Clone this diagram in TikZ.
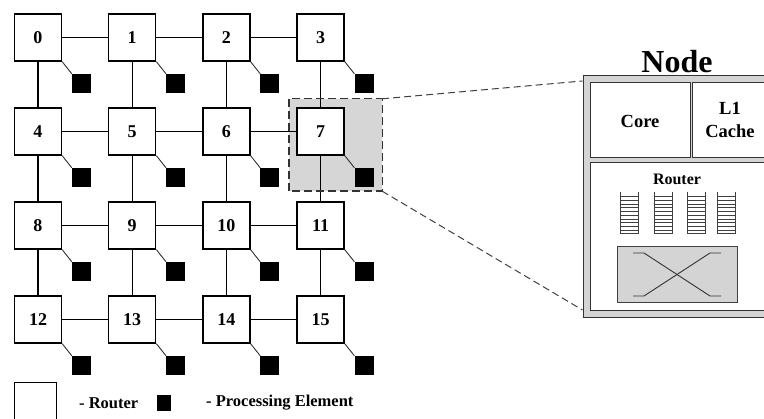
\documentclass[tikz,border=0pt]{standalone}
\usepackage{fontspec}
\setmainfont{Liberation Serif}
\begin{document}
\begin{tikzpicture}[x=1pt,y=-1pt,
  router/.style={draw,line width=1.4pt,fill=white,minimum width=47pt,minimum height=47pt,inner sep=0pt,font=\fontsize{18}{18}\selectfont\bfseries},
  pe/.style={fill=black,minimum size=19pt,inner sep=0pt},
  link/.style={line width=1.3pt},
  pelink/.style={line width=0.9pt,black!80},
  zoomreg/.style={fill=black!16,minimum width=93pt,minimum height=92pt,inner sep=0pt},
  zoomedge/.style={draw=black!80,line width=1.4pt,dash pattern=on 8pt off 4pt},
  dashline/.style={draw=black!75,line width=1pt,dash pattern=on 7pt off 4pt},
  outerbox/.style={draw=black!80,line width=1pt,fill=black!17,anchor=north west,inner sep=0pt},
  inbox/.style={draw=black!80,line width=1pt,fill=white,anchor=north west,inner sep=0pt},
  lbl/.style={inner sep=0pt,font=\fontsize{18.5}{23}\selectfont\bfseries,align=center},
  small/.style={inner sep=0pt,font=\fontsize{16}{16}\selectfont\bfseries},
  buf/.style={draw=black!75,line width=0.8pt},
  xbar/.style={draw=black!75,line width=0.9pt,fill=black!17,inner sep=0pt},
  xline/.style={draw=black!80,line width=0.9pt}]
\useasboundingbox (0,0) rectangle (764,419);
\clip (0,0) rectangle (764,419);

% highlighted region behind node 7
\node[zoomreg] (zoom) at (335.5,145) {};

% routers and processing elements
\foreach \i in {0,...,15}{
  \pgfmathtruncatemacro\c{mod(\i,4)}
  \pgfmathtruncatemacro\r{div(\i,4)}
  \node[router] (r\i) at ({38+94.2*\c},{37.5+94*\r}) {\i};
  \node[pe] (p\i) at ({38+94.2*\c+43.5},{37.5+94*\r+46}) {};
  \draw[pelink] (r\i.south east) -- (p\i.north west);
}
% mesh links
\foreach \r in {0,...,3}{
  \foreach \c in {0,1,2}{
    \pgfmathtruncatemacro\a{4*\r+\c}
    \pgfmathtruncatemacro\b{4*\r+\c+1}
    \draw[link] (r\a) -- (r\b);
  }
}
\foreach \r in {0,1,2}{
  \foreach \c in {0,...,3}{
    \pgfmathtruncatemacro\a{4*\r+\c}
    \pgfmathtruncatemacro\b{4*\r+\c+4}
    \draw[link] (r\a) -- (r\b);
  }
}
\draw[zoomedge] (zoom.north west) rectangle (zoom.south east);

% node detail panel
\node[outerbox,minimum width=210pt,minimum height=242pt] (nodebox) at (582.5,75) {};
\node[inbox,minimum width=100pt,minimum height=75pt] (core) at (590,82) {};
\node[inbox,minimum width=76pt,minimum height=75pt] (l1) at (692,82) {};
\node[inbox,minimum width=180pt,minimum height=148pt] (rbox) at (590,162) {};
\node[inner sep=0pt,font=\fontsize{32}{32}\selectfont\bfseries] (title) at (677,62) {Node};
\node[lbl] (corelbl) at (640,121) {Core};
\node[lbl] (l1lbl) at (730,120) {L1\\Cache};
\node[small] (rlbl) at (677,179) {Router};

% buffers
\foreach \bx [count=\k] in {620,654,687,717}{
  \draw[buf] (\bx,192) -- (\bx,233) -- (\bx+18,233) -- (\bx+18,192);
  \foreach \j in {0,...,9}{
    \draw[buf,line width=0.6pt] (\bx,{196.5+3.75*\j}) -- (\bx+18,{196.5+3.75*\j});
  }
}
% crossbar
\node[xbar,minimum width=120pt,minimum height=56pt] (xb) at (677,274) {};
\draw[xline] (633,253) -- (644,253) -- (710,296) -- (721,296);
\draw[xline] (633,296) -- (644,296) -- (710,253) -- (721,253);

% zoom connectors
\coordinate (ct) at (582.5,81);
\coordinate (cb) at (582.5,310);
\draw[dashline] (zoom.north east) -- (ct);
\draw[dashline] (zoom.south east) -- (cb);

% legend
\node[draw,line width=1.2pt,anchor=north west,minimum width=42pt,minimum height=45pt,inner sep=0pt] (legr) at (14,382) {};
\node[anchor=west,inner sep=0pt,font=\fontsize{16.5}{16.5}\selectfont\bfseries] (legrt) at (79,403) {- Router};
\node[fill=black,minimum width=14pt,minimum height=16pt,inner sep=0pt] (legp) at (164,403) {};
\node[anchor=west,inner sep=0pt,font=\fontsize{16.5}{16.5}\selectfont\bfseries] (legpt) at (206,403) {- Processing Element};
\end{tikzpicture}
\end{document}
